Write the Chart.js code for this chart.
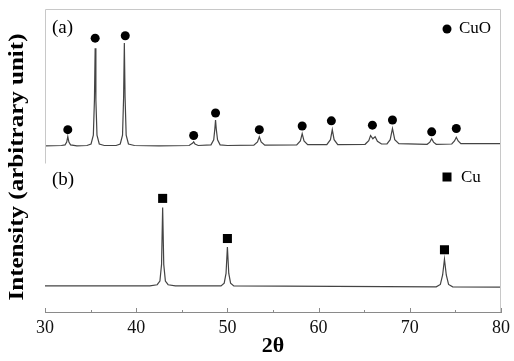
<!DOCTYPE html>
<html>
<head>
<meta charset="utf-8">
<script src="https://cdn.jsdelivr.net/npm/chart.js@4.4.1/dist/chart.umd.min.js"></script>
<style>
  html, body { margin: 0; padding: 0; background: #fff; }
  canvas { display: block; }
</style>
</head>
<body>
<canvas id="xrdChart" width="514" height="361"></canvas>
<script>
// (a) CuO pattern, shared arbitrary intensity axis (0-100)
const cuoTheta = [30.0, 31.8, 32.2, 32.38, 32.5, 32.62, 32.8, 33.5, 34.6, 35.05, 35.3, 35.42, 35.5, 35.58, 35.7, 35.95, 36.5,
  37.8, 38.25, 38.5, 38.62, 38.7, 38.78, 38.9, 39.15, 39.8, 42.5, 45.8, 46.2, 46.3, 46.45, 46.8,
  48.2, 48.5, 48.62, 48.7, 48.78, 48.92, 49.2, 50.0, 52.9, 53.3, 53.5, 53.7, 54.1,
  57.6, 58.0, 58.2, 58.4, 58.8, 60.9, 61.3, 61.5, 61.7, 62.1,
  65.1, 65.5, 65.7, 65.95, 66.2, 66.45, 66.9, 67.5, 67.85, 68.1, 68.35, 68.8,
  71.9, 72.2, 72.4, 72.6, 72.9, 74.6, 74.9, 75.1, 75.3, 75.6, 80.0];
const cuoIntensity = [55.0, 55.1, 55.3, 56.2, 58.0, 56.2, 55.3, 55.0, 55.1, 55.6, 58.5, 70.0, 87.1, 70.0, 58.5, 55.6, 55.1,
  55.1, 55.6, 58.5, 71.0, 88.8, 71.0, 58.5, 55.6, 55.1, 55.0, 55.1, 55.9, 56.3, 55.6, 55.1,
  55.3, 57.0, 60.5, 63.5, 60.5, 57.0, 55.3, 55.1, 55.2, 56.3, 58.0, 56.3, 55.2,
  55.3, 56.6, 59.0, 56.6, 55.4, 55.4, 57.0, 60.3, 57.0, 55.4,
  55.5, 56.7, 58.4, 57.3, 58.0, 56.5, 55.6, 55.6, 57.0, 60.7, 57.0, 55.7,
  55.5, 56.2, 57.3, 56.2, 55.5, 55.6, 56.6, 57.8, 56.6, 55.7, 55.7];

// (b) Cu pattern
const cuTheta = [30.0, 36.0, 41.5, 42.3, 42.6, 42.78, 42.9, 43.02, 43.2, 43.5, 44.3,
  49.3, 49.65, 49.85, 50.0, 50.15, 50.35, 50.7, 72.9, 73.35, 73.6, 73.8, 74.0, 74.25, 74.7, 80.0];
const cuIntensity = [8.9, 8.9, 8.9, 9.3, 10.5, 16.0, 34.7, 16.0, 10.5, 9.3, 8.9,
  8.9, 9.8, 13.0, 21.7, 13.0, 9.8, 8.9, 8.6, 9.4, 12.5, 17.7, 12.5, 9.4, 8.6, 8.5];

// phase markers
const cuoMarkTheta = [32.5, 35.5, 38.8, 46.3, 48.7, 53.5, 58.2, 61.4, 65.9, 68.1, 72.4, 75.1];
const cuoMarkY = [60.3, 90.4, 91.2, 58.4, 65.8, 60.3, 61.5, 63.2, 61.8, 63.5, 59.6, 60.7];
const cuMarkTheta = [42.9, 50.0, 73.8];
const cuMarkY = [37.7, 24.5, 20.8];

const xTicks = [30, 40, 50, 60, 70, 80];
const yTitle = 'Intensity (arbitrary unit)';

const toPoints = (xs, ys) => xs.map((x, i) => ({ x: x, y: ys[i] }));

const serif = "'Liberation Serif', 'DejaVu Serif', serif";

// frame, inward ticks, rotated y title, panel labels and legends
const decorPlugin = {
    id: 'decor',
    afterDraw(chart) {
        const { ctx, chartArea: a, scales: { x } } = chart;
        ctx.save();
        ctx.lineWidth = 1;
        ctx.strokeStyle = '#c8c8c8';
        ctx.beginPath();
        ctx.moveTo(a.left + 0.5, a.top + 0.5 + 154);
        ctx.lineTo(a.left + 0.5, a.top + 0.5);
        ctx.lineTo(a.right - 0.5, a.top + 0.5);
        ctx.lineTo(a.right - 0.5, a.bottom);
        ctx.stroke();

        ctx.strokeStyle = '#8a8a8a';
        ctx.beginPath();
        ctx.moveTo(a.left, a.bottom - 0.5);
        ctx.lineTo(a.right, a.bottom - 0.5);
        for (let v = 30; v <= 80; v += 5) {
            const px = Math.round(x.getPixelForValue(v)) + 0.5;
            ctx.moveTo(px, a.bottom);
            ctx.lineTo(px, a.bottom - (v % 10 === 0 ? 5 : 3));
        }
        ctx.stroke();

        // y title
        ctx.fillStyle = '#000';
        ctx.font = 'bold 21px ' + serif;
        const w = ctx.measureText(yTitle).width;
        ctx.translate(18, 167);
        ctx.rotate(-Math.PI / 2);
        ctx.scale(267 / w, 1);
        ctx.textAlign = 'center';
        ctx.textBaseline = 'middle';
        ctx.fillText(yTitle, 0, 0);
        ctx.restore();

        ctx.save();
        ctx.fillStyle = '#000';
        ctx.textBaseline = 'middle';
        ctx.font = '19px ' + serif;
        ctx.fillText('(a)', a.left + 7, a.top + 19);
        ctx.fillText('(b)', a.left + 7, a.top + 171);

        ctx.font = '17px ' + serif;
        ctx.fillText('CuO', a.left + 414, a.top + 20);
        ctx.fillText('Cu', a.left + 416, a.top + 169);

        ctx.beginPath();
        ctx.arc(a.left + 402, a.top + 20, 4.5, 0, Math.PI * 2);
        ctx.fill();
        ctx.fillRect(a.left + 397.5, a.top + 163.5, 9, 9);
        ctx.restore();
    }
};

new Chart(document.getElementById('xrdChart'), {
    type: 'line',
    data: {
        datasets: [
            {
                label: 'CuO',
                data: toPoints(cuoTheta, cuoIntensity),
                borderColor: '#444',
                borderWidth: 1.2,
                pointRadius: 0,
                tension: 0
            },
            {
                label: 'Cu',
                data: toPoints(cuTheta, cuIntensity),
                borderColor: '#444',
                borderWidth: 1.2,
                pointRadius: 0,
                tension: 0
            },
            {
                label: 'CuO peaks',
                data: toPoints(cuoMarkTheta, cuoMarkY),
                showLine: false,
                pointStyle: 'circle',
                pointRadius: 4.5,
                pointBackgroundColor: '#000',
                pointBorderWidth: 0
            },
            {
                label: 'Cu peaks',
                data: toPoints(cuMarkTheta, cuMarkY),
                showLine: false,
                pointStyle: 'rect',
                pointRadius: 6.4,
                pointBackgroundColor: '#000',
                pointBorderWidth: 0
            }
        ]
    },
    options: {
        responsive: false,
        animation: false,
        layout: {
            padding: { left: 45, right: 4, top: 9, bottom: 1 }
        },
        plugins: {
            legend: { display: false },
            tooltip: { enabled: false }
        },
        scales: {
            x: {
                type: 'linear',
                min: 30,
                max: 80,
                afterBuildTicks: (scale) => {
                    scale.ticks = xTicks.map(v => ({ value: v }));
                },
                grid: { display: false, drawTicks: false },
                border: { display: false },
                ticks: {
                    padding: 4,
                    color: '#111',
                    font: { family: serif, size: 18 }
                },
                title: {
                    display: true,
                    text: '2θ',
                    color: '#000',
                    padding: { top: -9, bottom: 0 },
                    font: { family: serif, size: 22, weight: 'bold' }
                }
            },
            y: {
                display: false,
                min: 0,
                max: 100
            }
        }
    },
    plugins: [decorPlugin]
});
</script>
</body>
</html>
